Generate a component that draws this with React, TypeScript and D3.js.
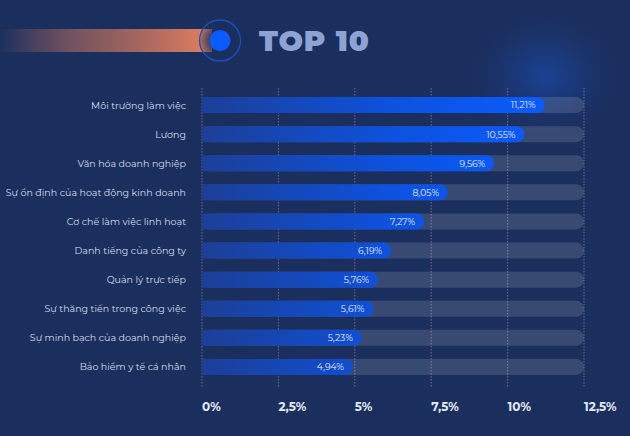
import React from "react";
import * as d3 from "d3";

const categories = [
  "Môi trường làm việc",
  "Lương",
  "Văn hóa doanh nghiệp",
  "Sự ổn định của hoạt động kinh doanh",
  "Cơ chế làm việc linh hoạt",
  "Danh tiếng của công ty",
  "Quản lý trực tiếp",
  "Sự thăng tiến trong công việc",
  "Sự minh bạch của doanh nghiệp",
  "Bảo hiểm y tế cá nhân",
];
const values = [11.21, 10.55, 9.56, 8.05, 7.27, 6.19, 5.76, 5.61, 5.23, 4.94];
const ticks = [0, 2.5, 5, 7.5, 10, 12.5];
const tickLabels = ["0%", "2,5%", "5%", "7,5%", "10%", "12,5%"];
const title = "TOP 10";

const W = 630;
const H = 436;

export default function App() {
  const x = d3.scaleLinear().domain([0, 12.5]).range([202, 584]);
  const y = d3.scaleBand().domain(categories).range([90.5, 381.5]).paddingInner(0.45).paddingOuter(0.225);
  const bh = y.bandwidth();
  const fmt = (v: number) => v.toFixed(2).replace(".", ",") + "%";
  const font = "Montserrat, 'Open Sans', 'Noto Sans', sans-serif";

  return (
    <div style={{ position: "absolute", left: 0, top: 0 }}>
      <svg width={W} height={H} style={{ display: "block" }}>
        <defs>
          <linearGradient id="orange" x1="0" x2="1" y1="0" y2="0">
            <stop offset="0" stopColor="#e07a5c" stopOpacity="0" />
            <stop offset="0.35" stopColor="#c0705f" stopOpacity="0.55" />
            <stop offset="1" stopColor="#e4805f" stopOpacity="1" />
          </linearGradient>
          <radialGradient id="glow" cx="0.5" cy="0.5" r="0.5">
            <stop offset="0" stopColor="#1a5ad8" stopOpacity="0.45" />
            <stop offset="0.45" stopColor="#1650c4" stopOpacity="0.2" />
            <stop offset="1" stopColor="#1b2f5e" stopOpacity="0" />
          </radialGradient>
          <radialGradient id="ringFill" cx="0.5" cy="0.5" r="0.5">
            <stop offset="0.5" stopColor="#1b2f5e" stopOpacity="0.8" />
            <stop offset="1" stopColor="#1b2f5e" stopOpacity="0.2" />
          </radialGradient>
          <linearGradient id="bar" gradientUnits="userSpaceOnUse" x1={x(0)} x2={x(11.5)} y1="0" y2="0">
            <stop offset="0" stopColor="#1c3f98" />
            <stop offset="0.55" stopColor="#0d52e0" />
            <stop offset="1" stopColor="#0a5cff" />
          </linearGradient>
        </defs>
        <rect x={0} y={0} width={W} height={H} fill="#1b2f5e" />
        <ellipse cx={545} cy={75} rx={85} ry={70} fill="url(#glow)" />

        {/* header */}
        <rect x={0} y={29} width={212} height={23} fill="url(#orange)" />
        <circle cx={220} cy={40.5} r={20.5} fill="url(#ringFill)" stroke="#1d4fbf" strokeWidth={1.3} />
        <circle cx={220} cy={40.5} r={10.5} fill="#0a5cff" />
        <text x={259} y={51} fontFamily={font} fontWeight={900} fontSize={29} fill="#8ea3d4" letterSpacing={0.8}>
          {title}
        </text>

        {/* grid */}
        {ticks.map((t, i) => (
          <line key={"g" + i} x1={x(t)} x2={x(t)} y1={88} y2={388} stroke="#8a7f9a" strokeOpacity={0.75} strokeWidth={1} strokeDasharray="1.5 1.5" />
        ))}

        {/* tracks */}
        {categories.map((c) => (
          <rect key={"t" + c} x={x(0)} y={y(c)} width={x(12.5) - x(0)} height={bh} rx={bh / 2} fill="#ffffff" fillOpacity={0.13} />
        ))}

        {/* bars */}
        {categories.map((c, i) => {
          const x0 = x(0);
          const x1 = x(values[i]);
          const r = bh / 2;
          const yy = y(c)!;
          const p = d3.path();
          p.moveTo(x0, yy);
          p.lineTo(x1 - r, yy);
          p.arc(x1 - r, yy + r, r, -Math.PI / 2, Math.PI / 2);
          p.lineTo(x0, yy + bh);
          p.closePath();
          return <path key={"b" + c} d={p.toString()} fill="url(#bar)" />;
        })}

        {/* value labels */}
        {categories.map((c, i) => (
          <text key={"v" + c} x={x(values[i]) - 9} y={y(c)! + bh / 2 + 3.4} textAnchor="end" fontFamily={font} fontSize={9.2} fill="#e8eeff">
            {fmt(values[i])}
          </text>
        ))}

        {/* category labels */}
        {categories.map((c) => (
          <text key={"c" + c} x={186} y={y(c)! + bh / 2 + 3.5} textAnchor="end" fontFamily={font} fontSize={9.5} fill="#d4dbea">
            {c}
          </text>
        ))}

        {/* axis labels */}
        {ticks.map((t, i) => (
          <text key={"a" + i} x={x(t)} y={411} fontFamily={font} fontWeight={700} fontSize={12} fill="#e4e9f4">
            {tickLabels[i]}
          </text>
        ))}
      </svg>
    </div>
  );
}
